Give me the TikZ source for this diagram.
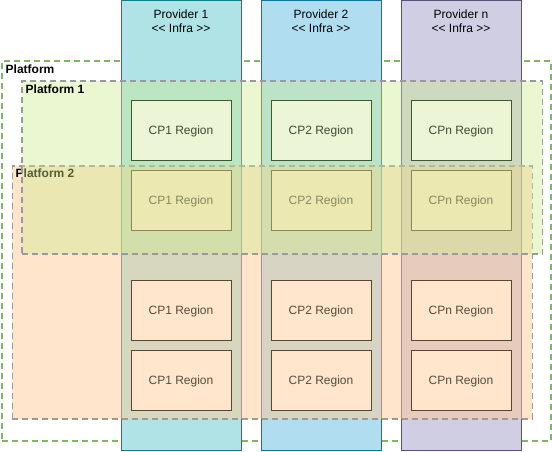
\documentclass[tikz,border=0pt]{standalone}
\usepackage{fontspec}
\setmainfont{Liberation Sans}[Ligatures=TeXOff]

\definecolor{ProvOneFill}{HTML}{B0E3E6}
\definecolor{ProvOneLine}{HTML}{0E8088}
\definecolor{ProvTwoFill}{HTML}{B1DDF0}
\definecolor{ProvTwoLine}{HTML}{10739E}
\definecolor{ProvNFill}{HTML}{D0CEE2}
\definecolor{ProvNLine}{HTML}{56517E}
\definecolor{PlatLine}{HTML}{82B366}
\definecolor{SubPlatLine}{HTML}{9A9A9A}
\definecolor{PlatOneFill}{HTML}{CDEB8B}
\definecolor{PlatTwoFill}{HTML}{FFCC99}
\definecolor{RegFill}{HTML}{FFE6CC}
\definecolor{RegLine}{HTML}{5C4632}
\definecolor{RegText}{HTML}{5A4A3C}
\definecolor{RegTopFill}{HTML}{ECF5D6}
\definecolor{RegTopLine}{HTML}{3C5A2C}
\definecolor{RegTopText}{HTML}{3E4B34}

\begin{document}
\begin{tikzpicture}[x=1pt, y=-1pt]
\useasboundingbox (0,0) rectangle (552,451);

\tikzset{PlatformStyle/.style = {
 draw = PlatLine,
 line width = 1.5pt,
 dash pattern = on 6pt off 4pt,
 inner sep = 0pt,
 anchor = north west} }

\tikzset{LabelStyle/.style = {
 font = \fontsize{12}{14}\selectfont\bfseries,
 inner sep = 0pt,
 anchor = base west} }

\node[PlatformStyle, minimum width=549, minimum height=380] (PF) at (1,60) {};
\node[LabelStyle] (PF_L) at (5.5,73) {Platform};


\tikzset{ProviderStyle/.style = {
 line width = 0.8pt,
 minimum width = 120,
 minimum height = 450,
 inner sep = 0pt} }

\tikzset{HeadStyle/.style = {
 font = \fontsize{12}{14}\selectfont,
 align = center,
 inner sep = 0pt,
 anchor = north} }

\node[ProviderStyle, fill=ProvOneFill, draw=ProvOneLine] (P1) at (181,225.5) {};
\node[ProviderStyle, fill=ProvTwoFill, draw=ProvTwoLine] (P2) at (321,225.5) {};
\node[ProviderStyle, fill=ProvNFill, draw=ProvNLine] (PN) at (461,225.5) {};
\node[HeadStyle] (P1_H) at (181,9.5) {Provider 1\\<\kern0pt< Infra >\kern0pt>};
\node[HeadStyle] (P2_H) at (321,9.5) {Provider 2\\<\kern0pt< Infra >\kern0pt>};
\node[HeadStyle] (PN_H) at (461,9.5) {Provider n\\<\kern0pt< Infra >\kern0pt>};


\tikzset{SubPlatformStyle/.style = {
 PlatformStyle,
 draw = SubPlatLine,
 fill opacity = 0.5} }

\node[SubPlatformStyle, fill=PlatTwoFill, minimum width=520, minimum height=253] (PF2) at (11.5,165) {};
\node[LabelStyle] (PF2_L) at (15.5,177.5) {Platform 2};


\tikzset{RegionStyle/.style = {
 fill = RegFill,
 draw = RegLine,
 text = RegText,
 line width = 0.8pt,
 font = \fontsize{12}{14}\selectfont,
 text depth = 0pt,
 minimum width = 100,
 minimum height = 60,
 inner sep = 0pt} }

\node[RegionStyle] (R2_1) at (181,200) {CP1 Region};
\node[RegionStyle] (R2_2) at (321,200) {CP2 Region};
\node[RegionStyle] (R2_3) at (461,200) {CPn Region};
\node[RegionStyle] (R3_1) at (181,310) {CP1 Region};
\node[RegionStyle] (R3_2) at (321,310) {CP2 Region};
\node[RegionStyle] (R3_3) at (461,310) {CPn Region};
\node[RegionStyle] (R4_1) at (181,380) {CP1 Region};
\node[RegionStyle] (R4_2) at (321,380) {CP2 Region};
\node[RegionStyle] (R4_3) at (461,380) {CPn Region};


\node[SubPlatformStyle, fill=PlatOneFill, fill opacity=0.4, minimum width=520.5, minimum height=173] (PF1) at (21,80.3) {};
\node[LabelStyle] (PF1_L) at (25.5,93) {Platform 1};

\tikzset{RegionTopStyle/.style = {
 RegionStyle,
 fill = RegTopFill,
 draw = RegTopLine,
 text = RegTopText} }

\node[RegionTopStyle] (R1_1) at (181,130) {CP1 Region};
\node[RegionTopStyle] (R1_2) at (321,130) {CP2 Region};
\node[RegionTopStyle] (R1_3) at (461,130) {CPn Region};

\end{tikzpicture}
\end{document}
